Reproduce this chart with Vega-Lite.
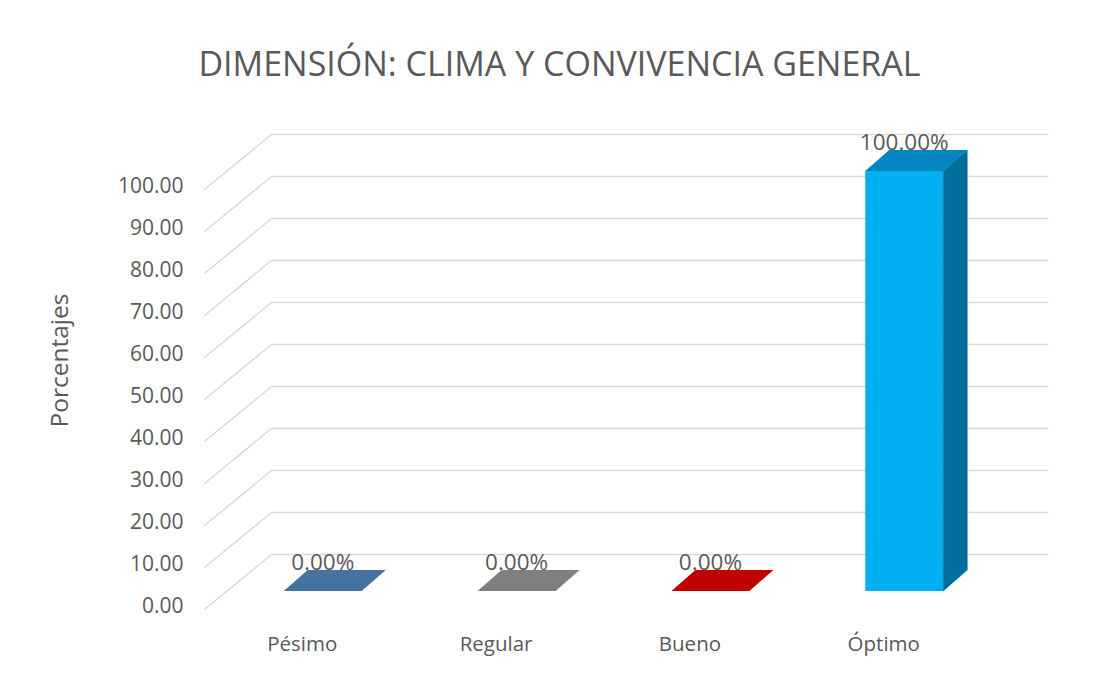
{
  "$schema": "https://vega.github.io/schema/vega-lite/v6.json",
  "width": 777,
  "height": 420,
  "autosize": {"type": "none"},
  "padding": {"left": 271, "top": 134, "right": 49, "bottom": 120},
  "background": "white",
  "config": {"view": {"stroke": null}},
  "title": {
    "text": "DIMENSIÓN: CLIMA Y CONVIVENCIA GENERAL",
    "font": "Open Sans",
    "fontSize": 34,
    "fontWeight": "normal",
    "color": "#595959",
    "anchor": "middle",
    "dx": -100,
    "baseline": "alphabetic",
    "offset": 22
  },
  "data": {
    "values": [
      {"nivel": "Pésimo", "valor": 0},
      {"nivel": "Regular", "valor": 0},
      {"nivel": "Bueno", "valor": 0},
      {"nivel": "Óptimo", "valor": 1}
    ]
  },
  "encoding": {
    "x": {
      "field": "nivel",
      "type": "nominal",
      "sort": null,
      "scale": {"paddingInner": 0.5975, "paddingOuter": 0.303},
      "axis": {
        "title": null,
        "domain": false,
        "ticks": false,
        "grid": false,
        "labelAngle": 0,
        "labelFont": "Open Sans",
        "labelFontSize": 20.5,
        "labelColor": "#595959",
        "labelBaseline": "alphabetic",
        "labelPadding": 96,
        "labelOffset": -66.5
      }
    }
  },
  "layer": [
    {
      "mark": {"type": "bar", "xOffset": -46, "yOffset": 37, "y2Offset": 37},
      "encoding": {
        "y": {
          "field": "valor",
          "type": "quantitative",
          "scale": {"domain": [0, 1], "nice": false},
          "axis": {
            "title": "Porcentajes",
            "values": [0, 0.1, 0.2, 0.3, 0.4, 0.5, 0.6, 0.7, 0.8, 0.9, 1],
            "labelExpr": "format(datum.value * 100, '.2f')",
            "grid": true,
            "gridColor": "#D9D9D9",
            "gridWidth": 1.5,
            "domain": false,
            "ticks": true,
            "tickSize": 67,
            "tickColor": "#D9D9D9",
            "tickWidth": 1.5,
            "encoding": {"ticks": {"y2": {"value": {"signal": "scale('y', datum.value) + 55"}}}},
            "labelOffset": 52,
            "labelPadding": 21,
            "labelFont": "Open Sans",
            "labelFontSize": 21,
            "labelColor": "#595959",
            "titleFont": "Open Sans",
            "titleFontSize": 24.5,
            "titleFontWeight": "normal",
            "titleColor": "#595959",
            "titlePadding": 45,
            "titleY": 226
          }
        },
        "y2": {"datum": 0},
        "color": {
          "field": "nivel",
          "type": "nominal",
          "scale": {"domain": ["Pésimo", "Regular", "Bueno", "Óptimo"], "range": ["#44739F", "#7F7F7F", "#C00000", "#00B0F0"]},
          "legend": null
        }
      }
    },
    {
      "transform": [{"filter": "datum.valor > 0"}],
      "mark": {"type": "bar", "width": 24, "color": "#006E9A", "stroke": "#006E9A", "strokeWidth": 0.5, "xOffset": 5, "yOffset": 37, "y2Offset": 16},
      "encoding": {
        "y": {"field": "valor", "type": "quantitative"},
        "y2": {"datum": 0}
      }
    },
    {
      "transform": [{"filter": "datum.valor > 0"}],
      "mark": {"type": "point", "shape": "M -1 0.875 L 1 0.875 L 1 -0.875 Z", "size": 576, "filled": true, "opacity": 1, "color": "#006E9A", "stroke": "#006E9A", "strokeWidth": 0.5, "xOffset": 5, "yOffset": 26.5},
      "encoding": {
        "y": {"field": "valor", "type": "quantitative"}
      }
    },
    {
      "transform": [{"filter": "datum.valor > 0"}],
      "mark": {"type": "point", "shape": "M -1 -0.875 L -1 0.875 L 1 -0.875 Z", "size": 576, "filled": true, "opacity": 1, "color": "#006E9A", "stroke": "#006E9A", "strokeWidth": 0.5, "xOffset": 5, "yOffset": 26.5},
      "encoding": {
        "y": {"datum": 0, "type": "quantitative"}
      }
    },
    {
      "mark": {"type": "point", "shape": "M -1 0.2059 L 0.5294 0.2059 L 1 -0.2059 L -0.5294 -0.2059 Z", "size": 10404, "filled": true, "opacity": 1, "strokeWidth": 0, "xOffset": -34, "yOffset": 26.5},
      "encoding": {
        "y": {"field": "valor", "type": "quantitative"},
        "fill": {
          "field": "nivel",
          "type": "nominal",
          "scale": {"domain": ["Pésimo", "Regular", "Bueno", "Óptimo"], "range": ["#44739F", "#7F7F7F", "#C00000", "#0386BF"]},
          "legend": null
        }
      }
    },
    {
      "mark": {"type": "text", "font": "Open Sans", "fontSize": 22.5, "color": "#595959", "baseline": "middle", "align": "center", "xOffset": -46, "yOffset": 9},
      "encoding": {
        "y": {"field": "valor", "type": "quantitative"},
        "text": {"field": "valor", "type": "quantitative", "format": ".2%"}
      }
    }
  ]
}
